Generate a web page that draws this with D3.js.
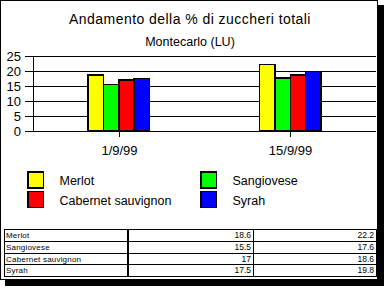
<!DOCTYPE html>
<html><head><meta charset="utf-8">
<script src="https://cdn.jsdelivr.net/npm/d3@7"></script>
<style>
html,body{margin:0;padding:0;background:#fff;}
svg{display:block;font-family:"Liberation Sans",Arial,sans-serif;}
rect,line{shape-rendering:crispEdges;}
</style></head>
<body><svg id="c" width="387" height="289"></svg>
<script>
const categories = ["1/9/99", "15/9/99"];
const seriesNames = ["Merlot", "Sangiovese", "Cabernet sauvignon", "Syrah"];
const merlot = [18.6, 22.2];
const sangiovese = [15.5, 17.6];
const cabernet = [17, 18.6];
const syrah = [17.5, 19.8];
const colors = ["#ffff00", "#00ff00", "#ff0000", "#0000ff"];
const yTicks = [0, 5, 10, 15, 20, 25];
const title = "Andamento della % di zuccheri totali";
const subtitle = "Montecarlo (LU)";

const values = [merlot, sangiovese, cabernet, syrah];
const svg = d3.select("#c");

// frame + shadow
svg.append("rect").attr("x", 378).attr("y", 5).attr("width", 6).attr("height", 281).attr("fill", "#000");
svg.append("rect").attr("x", 5).attr("y", 280).attr("width", 379).attr("height", 6).attr("fill", "#000");
svg.append("rect").attr("x", 0.5).attr("y", 0.5).attr("width", 377).attr("height", 279)
  .attr("fill", "#fff").attr("stroke", "#000").attr("stroke-width", 1);

// titles
svg.append("text").attr("x", 190).attr("y", 24).attr("text-anchor", "middle")
  .attr("font-size", 14).attr("letter-spacing", 0.45).text(title);
svg.append("text").attr("x", 190).attr("y", 46).attr("text-anchor", "middle")
  .attr("font-size", 12.5).text(subtitle);

// scales
const x0 = d3.scaleBand().domain(categories).range([33, 376]).padding(0);
const y = d3.scaleLinear().domain([0, 25]).range([130.5, 56]);
const barGroupW = 61.4;
const x1 = d3.scaleBand().domain(seriesNames).range([0, barGroupW]).padding(0);

// gridlines + left ticks
const g = svg.append("g");
g.selectAll("line.grid").data(yTicks).join("line")
  .attr("x1", 25).attr("x2", 376)
  .attr("y1", d => Math.round(y(d)) + 0.5).attr("y2", d => Math.round(y(d)) + 0.5)
  .attr("stroke", "#000").attr("stroke-width", 1);
g.selectAll("text.yl").data(yTicks).join("text")
  .attr("x", 21).attr("y", d => Math.round(y(d)) + 5)
  .attr("text-anchor", "end").attr("font-size", 13).text(d => d);
// y axis line
g.append("line").attr("x1", 33.5).attr("x2", 33.5)
  .attr("y1", Math.round(y(25)) + 0.5).attr("y2", Math.round(y(0)) + 0.5)
  .attr("stroke", "#000");

// bars
const bars = svg.append("g");
categories.forEach((cat, ci) => {
  const cx = x0(cat) + x0.bandwidth() / 2;
  const left = cx - barGroupW / 2;
  seriesNames.forEach((s, si) => {
    const v = values[si][ci];
    bars.append("rect")
      .attr("x", left + x1(s)).attr("width", x1.bandwidth())
      .attr("y", y(v)).attr("height", y(0) - y(v))
      .attr("fill", colors[si]).attr("stroke", "#000").attr("stroke-width", 1.5);
  });
});

// x ticks and labels
categories.forEach(cat => {
  const cx = Math.round(x0(cat) + x0.bandwidth() / 2) + 0.5;
  svg.append("line").attr("x1", cx).attr("x2", cx)
    .attr("y1", Math.round(y(0)) + 0.5).attr("y2", 137).attr("stroke", "#000");
  svg.append("text").attr("x", cx).attr("y", 155).attr("text-anchor", "middle")
    .attr("font-size", 13).text(cat);
});

// legend
const legPos = [[28, 172], [201, 172], [28, 191.5], [201, 191.5]];
seriesNames.forEach((s, i) => {
  const [lx, ly] = legPos[i];
  svg.append("rect").attr("x", lx).attr("y", ly).attr("width", 15.5).attr("height", 16)
    .attr("fill", colors[i]).attr("stroke", "#000").attr("stroke-width", 1.5);
  svg.append("text").attr("x", lx + 31.5).attr("y", ly + 13)
    .attr("font-size", 12.5).text(s);
});

// data table
const tTop = 229, rowH = 11.75, tL = 4.5, c1 = 128, c2 = 253.5, tR = 376.5;
const tb = svg.append("g");
tb.append("rect").attr("x", tL).attr("y", tTop).attr("width", tR - tL).attr("height", rowH * 4)
  .attr("fill", "none").attr("stroke", "#000");
seriesNames.forEach((s, i) => {
  const ry = tTop + rowH * i;
  if (i > 0) tb.append("line").attr("x1", tL).attr("x2", tR).attr("y1", Math.round(ry) + 0.5).attr("y2", Math.round(ry) + 0.5).attr("stroke", "#000");
  tb.append("text").attr("x", 6).attr("y", ry + 9).attr("font-size", 8).attr("letter-spacing", 0.2).text(s);
  tb.append("text").attr("x", c2 - 2.5).attr("y", ry + 9).attr("font-size", 8.5).attr("text-anchor", "end").text(values[i][0]);
  tb.append("text").attr("x", tR - 2.5).attr("y", ry + 9).attr("font-size", 8.5).attr("text-anchor", "end").text(values[i][1]);
});
tb.append("line").attr("x1", c1).attr("x2", c1).attr("y1", tTop).attr("y2", tTop + rowH * 4).attr("stroke", "#000").attr("stroke-width", 2);
tb.append("line").attr("x1", c2).attr("x2", c2).attr("y1", tTop).attr("y2", tTop + rowH * 4).attr("stroke", "#000").attr("stroke-width", 1.3);
</script></body></html>
